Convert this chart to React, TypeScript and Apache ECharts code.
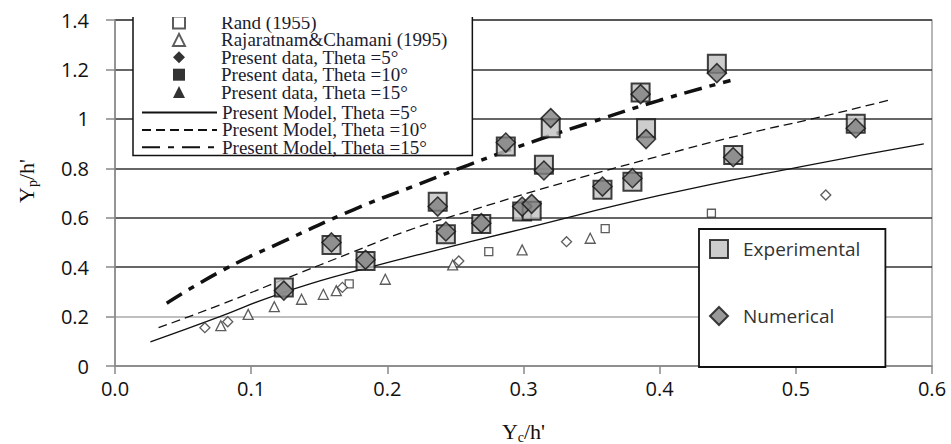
import React, { useEffect, useRef } from 'react';
import * as echarts from 'echarts';

// Experimental / Numerical (present study)
const pairX = [0.124, 0.159, 0.184, 0.237, 0.243, 0.269, 0.287, 0.299, 0.306, 0.315, 0.320, 0.358, 0.380, 0.386, 0.390, 0.442, 0.454, 0.544];
const expY = [0.318, 0.49, 0.425, 0.665, 0.533, 0.575, 0.888, 0.625, 0.628, 0.814, 0.962, 0.713, 0.746, 1.107, 0.962, 1.223, 0.854, 0.98];
const numY = [0.305, 0.50, 0.43, 0.645, 0.544, 0.578, 0.904, 0.645, 0.656, 0.791, 1.003, 0.726, 0.76, 1.10, 0.918, 1.185, 0.845, 0.962];

// Rand (1955)
const randX = [0.172, 0.2745, 0.360, 0.438];
const randY = [0.332, 0.463, 0.556, 0.618];

// Rajaratnam & Chamani (1995)
const rajX = [0.0777, 0.0978, 0.117, 0.137, 0.153, 0.1625, 0.1985, 0.248, 0.299, 0.349];
const rajY = [0.163, 0.209, 0.24, 0.27, 0.29, 0.305, 0.351, 0.409, 0.47, 0.517];

// small hollow diamonds
const hdX = [0.066, 0.0828, 0.167, 0.2525, 0.3316, 0.522];
const hdY = [0.155, 0.179, 0.318, 0.425, 0.503, 0.692];

// Present model lines
const m5X = [0.026, 0.077, 0.112, 0.151, 0.184, 0.224, 0.298, 0.40, 0.504, 0.594];
const m5Y = [0.098, 0.20, 0.275, 0.345, 0.395, 0.452, 0.553, 0.69, 0.807, 0.899];
const m10X = [0.032, 0.077, 0.126, 0.175, 0.215, 0.259, 0.33, 0.40, 0.46, 0.523, 0.571];
const m10Y = [0.155, 0.247, 0.355, 0.462, 0.548, 0.625, 0.743, 0.85, 0.935, 1.014, 1.08];
const m15X = [0.038, 0.08, 0.126, 0.175, 0.218, 0.259, 0.308, 0.349, 0.40, 0.452];
const m15Y = [0.254, 0.39, 0.51, 0.632, 0.725, 0.812, 0.91, 0.985, 1.075, 1.155];

const markerNames = [
  'Rand (1955)',
  'Rajaratnam&Chamani (1995)',
  'Present data, Theta =5°',
  'Present data, Theta =10°',
  'Present data, Theta =15°',
];
const modelNames = [
  'Present Model, Theta =5°',
  'Present Model, Theta =10°',
  'Present Model, Theta =15°',
];

const zip = (xs: number[], ys: number[]) => xs.map((x, i) => [x, ys[i]]);

export default function App() {
  const ref = useRef<HTMLDivElement>(null);
  useEffect(() => {
    document.body.style.margin = '0';
    const chart = echarts.init(ref.current!, null, { renderer: 'svg' });
    const hollow = { color: '#fff', borderColor: '#333', borderWidth: 1.3 };
    const legendText = { fontFamily: 'Liberation Serif', fontSize: 19, color: '#1c1c30' };
    chart.setOption({
      animation: false,
      backgroundColor: '#fff',
      grid: {
        left: 115, right: 19, top: 20, bottom: 78,
        outerBoundsMode: 'none', containLabel: false,
        show: true, borderColor: '#888', borderWidth: 1.2,
      },
      xAxis: {
        type: 'value', min: 0, max: 0.6, interval: 0.1,
        axisLine: { lineStyle: { color: '#888', width: 1.5 } },
        axisTick: { show: true, length: 8, lineStyle: { color: '#888', width: 1.5 } },
        splitLine: { show: false },
        axisLabel: { formatter: (v: number) => v.toFixed(1), fontFamily: 'Open Sans', fontSize: 20, color: '#111', margin: 12 },
        name: '{a|Y}{s|c}{a|/h\'}', nameLocation: 'middle', nameGap: 52,
        nameTextStyle: {
          rich: {
            a: { fontFamily: 'Liberation Serif', fontSize: 22, color: '#111' },
            s: { fontFamily: 'Liberation Serif', fontSize: 14, color: '#111', padding: [12, 0, 0, 0] },
          },
        },
      },
      yAxis: {
        type: 'value', min: 0, max: 1.4, interval: 0.2,
        axisLine: { show: true, lineStyle: { color: '#888', width: 1.5 } },
        axisTick: { show: true, length: 9, lineStyle: { color: '#888', width: 1.5 } },
        splitLine: { show: true, lineStyle: { color: ['#999', '#aaa', '#333', '#333', '#333', '#333', '#333', '#333'], width: 1.5 } },
        axisLabel: { fontFamily: 'Open Sans', fontSize: 20, color: '#111', margin: 26 },
        name: '{a|Y}{s|p}{a|/h\'}', nameLocation: 'middle', nameGap: 76, nameRotate: 90,
        nameTextStyle: {
          padding: [0, 0, 0, 24],
          rich: {
            a: { fontFamily: 'Liberation Serif', fontSize: 22, color: '#111' },
            s: { fontFamily: 'Liberation Serif', fontSize: 14, color: '#111', padding: [12, 0, 0, 0] },
          },
        },
      },
      legend: [
        {
          data: markerNames,
          orient: 'vertical', left: 133, top: 11,
          itemWidth: 12, itemHeight: 12, itemGap: -1.6,
          padding: [2, 25, 54, 39],
          backgroundColor: '#fff', borderColor: '#111', borderWidth: 1.5, borderRadius: 0,
          textStyle: { ...legendText, padding: [0, 0, 0, 31] },
          selectedMode: false, z: 10,
        },
        {
          data: modelNames.map((n) => ({ name: n, itemStyle: { opacity: 0 } })),
          orient: 'vertical', left: 141, top: 103,
          itemWidth: 75, itemHeight: 11, itemGap: -1.6,
          padding: 0,
          textStyle: legendText,
          selectedMode: false, z: 11,
        },
        {
          data: ['Experimental', 'Numerical'],
          orient: 'vertical', left: 699, top: 229,
          itemWidth: 18, itemHeight: 18, itemGap: 47,
          padding: [10, 25, 41, 10],
          backgroundColor: '#fff', borderColor: '#111', borderWidth: 1.8, borderRadius: 0,
          textStyle: { fontFamily: 'Open Sans', fontSize: 19, color: '#333', lineHeight: 18, padding: [0, 0, 0, 10] },
          selectedMode: false, z: 10,
        },
      ],
      graphic: [
        { type: 'rect', left: 125, top: 0, shape: { width: 360, height: 17 }, style: { fill: '#fff' }, z: 100 },
      ],
      series: [
        { name: 'Present Model, Theta =5°', type: 'line', data: zip(m5X, m5Y), smooth: true, symbol: 'none', color: '#111', lineStyle: { color: '#111', width: 1.3, type: 'solid' }, z: 2 },
        { name: 'Present Model, Theta =10°', type: 'line', data: zip(m10X, m10Y), smooth: true, symbol: 'none', color: '#111', lineStyle: { color: '#111', width: 1.3, type: [9, 5] }, z: 2 },
        { name: 'Present Model, Theta =15°', type: 'line', data: zip(m15X, m15Y), smooth: true, symbol: 'none', color: '#111', lineStyle: { color: '#111', width: 3.5, type: [18, 8, 6, 8] }, z: 2 },
        { name: 'Rand (1955)', type: 'scatter', data: zip(randX, randY), symbol: 'rect', symbolSize: 8, itemStyle: hollow, z: 3 },
        { name: 'Rajaratnam&Chamani (1995)', type: 'scatter', data: zip(rajX, rajY), symbol: 'triangle', symbolSize: 10, itemStyle: hollow, z: 3 },
        { name: 'hollow', type: 'scatter', data: zip(hdX, hdY), symbol: 'diamond', symbolSize: 10, itemStyle: hollow, z: 3 },
        { name: 'Present data, Theta =5°', type: 'scatter', data: [], symbol: 'diamond', itemStyle: { color: '#000' } },
        { name: 'Present data, Theta =10°', type: 'scatter', data: [], symbol: 'rect', itemStyle: { color: '#000' } },
        { name: 'Present data, Theta =15°', type: 'scatter', data: [], symbol: 'triangle', itemStyle: { color: '#000' } },
        { name: 'Experimental', type: 'scatter', data: zip(pairX, expY), symbol: 'rect', symbolSize: 18, itemStyle: { color: '#c0c0c0', borderColor: '#111', borderWidth: 2 }, z: 4 },
        { name: 'Numerical', type: 'scatter', data: zip(pairX, numY), symbol: 'diamond', symbolSize: 19, itemStyle: { color: '#7f7f7f', borderColor: '#111', borderWidth: 1.5 }, z: 5 },
      ],
    });
    return () => chart.dispose();
  }, []);
  return <div ref={ref} style={{ width: 951, height: 444 }} />;
}
